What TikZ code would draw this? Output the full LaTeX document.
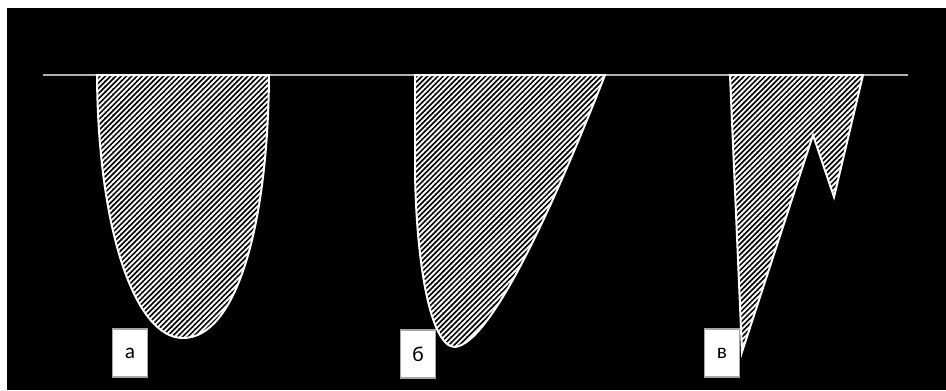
\documentclass[tikz,border=0pt]{standalone}
\usepackage{fontspec}
\setmainfont{Carlito}
\usetikzlibrary{patterns.meta}

\begin{document}
\begin{tikzpicture}[x=0.75pt,y=-0.75pt,
  hatched/.style={draw=white,line width=1.5pt,
    pattern={Lines[angle=45,distance=2.8pt,line width=1.4pt]},pattern color=white!90},
  tag/.style={draw=gray!70,fill=white,line width=0.8pt,minimum width=26pt,minimum height=36pt,
    inner sep=0pt,font=\fontsize{16}{19}\selectfont}]
  \useasboundingbox (0,0) rectangle (946,390);
  \fill[white] (0,0) rectangle (946,390);
  \fill[black] (7,8) rectangle (946,390);
  \draw[gray!60,line width=1.5pt] (43,75) -- (908,75);

  \draw[hatched] (97,75) .. controls (98,230) and (135,338) .. (183,338)
    .. controls (235,338) and (268,230) .. (269,75) -- cycle;
  \draw[hatched] (415,75) -- (415,170) .. controls (416,260) and (430,347) .. (455,347)
    .. controls (490,343) and (550,215) .. (605,75) -- cycle;
  \draw[hatched,line join=miter] (730,75) -- (742,352) -- (813,135) -- (834,197) -- (863,75) -- cycle;

  \node[tag] (lbla) at (130,353) {а};
  \node[tag] (lblb) at (418,354) {б};
  \node[tag] (lblv) at (722,353) {в};
\end{tikzpicture}
\end{document}
